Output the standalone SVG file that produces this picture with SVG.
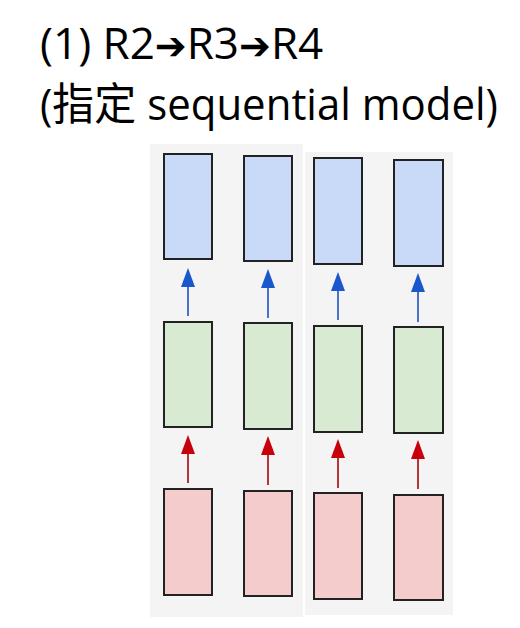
<svg xmlns="http://www.w3.org/2000/svg" width="520" height="628" viewBox="0 0 520 628">
<defs>
<style>
.t{font-family:"Open Sans","Noto Sans CJK TC","Noto Sans",sans-serif;font-size:44px;fill:#000}
.arr{font-family:"DejaVu Sans",sans-serif;font-size:38px}
.panel{fill:#f4f4f4}
.b{fill:#c9daf8;stroke:#222;stroke-width:2}
.g{fill:#d9ead3;stroke:#222;stroke-width:2}
.r{fill:#f4cccc;stroke:#222;stroke-width:2}
.ab{stroke:#4a72c8;stroke-width:2;fill:none}
.ar{stroke:#b8333a;stroke-width:2;fill:none}
.hb{fill:#1a57cc}
.hr{fill:#c8000c}
</style>
</defs>
<rect width="520" height="628" fill="#fff"/>
<text class="t" x="40" y="59">(1) R2<tspan class="arr">➔</tspan>R3<tspan class="arr">➔</tspan>R4</text>
<text class="t" x="40" y="120" textLength="458" lengthAdjust="spacingAndGlyphs">(指定 sequential model)</text>
<rect class="panel" x="150" y="144" width="153" height="473"/>
<rect class="panel" x="305" y="152" width="148" height="463"/>
<g id="connectors">
<path class="ab" d="M188,316 V286"/>
<path class="hb" d="M181,287 L188,268 L195,287 z"/>
<path class="ab" d="M268,318 V287"/>
<path class="hb" d="M261,288 L268,269 L275,288 z"/>
<path class="ab" d="M338,320 V290"/>
<path class="hb" d="M331,291 L338,272 L345,291 z"/>
<path class="ab" d="M418,322 V291"/>
<path class="hb" d="M411,292 L418,273 L425,292 z"/>
<path class="ar" d="M188,483 V453"/>
<path class="hr" d="M181,454 L188,435 L195,454 z"/>
<path class="ar" d="M268,485 V454"/>
<path class="hr" d="M261,455 L268,436 L275,455 z"/>
<path class="ar" d="M338,488 V457"/>
<path class="hr" d="M331,458 L338,439 L345,458 z"/>
<path class="ar" d="M418,489 V458"/>
<path class="hr" d="M411,459 L418,440 L425,459 z"/>
</g>
<g id="blue1"><rect class="b" x="164" y="154" width="48" height="105"/></g>
<g id="blue2"><rect class="b" x="244" y="156" width="48" height="105"/></g>
<g id="blue3"><rect class="b" x="314" y="158" width="48" height="106"/></g>
<g id="blue4"><rect class="b" x="394" y="160" width="49" height="106"/></g>
<g id="green1"><rect class="g" x="164" y="322" width="48" height="105"/></g>
<g id="green2"><rect class="g" x="244" y="323" width="48" height="106"/></g>
<g id="green3"><rect class="g" x="314" y="326" width="48" height="106"/></g>
<g id="green4"><rect class="g" x="394" y="327" width="49" height="106"/></g>
<g id="red1"><rect class="r" x="164" y="489" width="48" height="106"/></g>
<g id="red2"><rect class="r" x="244" y="491" width="48" height="105"/></g>
<g id="red3"><rect class="r" x="314" y="493" width="48" height="106"/></g>
<g id="red4"><rect class="r" x="394" y="495" width="49" height="105"/></g>
</svg>
